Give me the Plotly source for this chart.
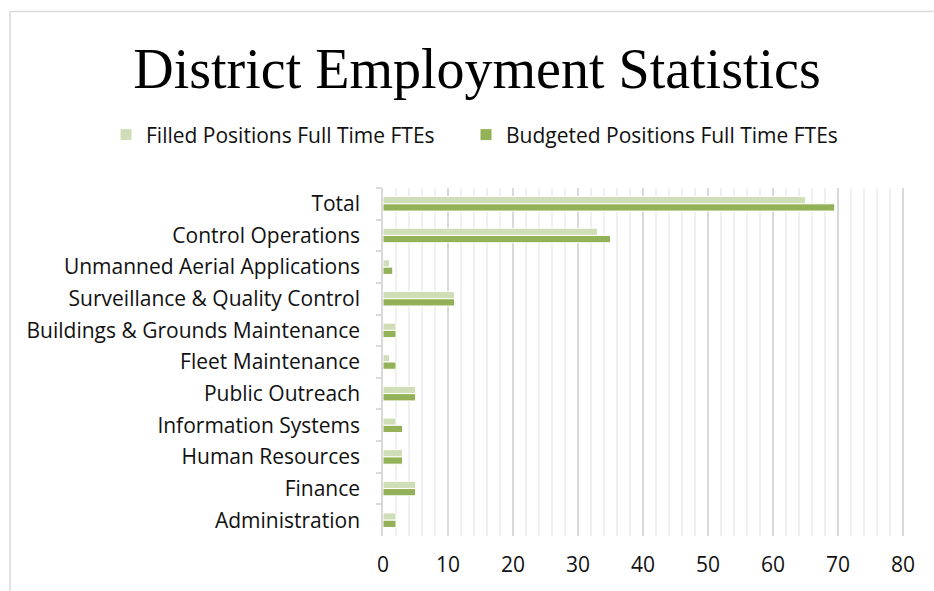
import plotly.graph_objects as go

# Departments, listed top to bottom as they appear on the chart
departments = [
    "Total",
    "Control Operations",
    "Unmanned Aerial Applications",
    "Surveillance & Quality Control",
    "Buildings & Grounds Maintenance",
    "Fleet Maintenance",
    "Public Outreach",
    "Information Systems",
    "Human Resources",
    "Finance",
    "Administration",
]

# Full-time equivalents per department
filled_ftes = [65, 33, 1, 11, 2, 1, 5, 2, 3, 5, 2]
budgeted_ftes = [69.5, 35, 1.5, 11, 2, 2, 5, 3, 3, 5, 2]

x_ticks = [0, 10, 20, 30, 40, 50, 60, 70, 80]

W, H = 934, 591
ML, MR, MT, MB = 383, 29, 188, 55

fig = go.Figure()
fig.add_trace(go.Bar(
    y=departments, x=filled_ftes, orientation="h",
    name="Filled Positions Full Time FTEs",
    marker=dict(color="#D0DEB8", line=dict(color="white", width=1)),
    legendwidth=315,
))
fig.add_trace(go.Bar(
    y=departments, x=budgeted_ftes, orientation="h",
    name="Budgeted Positions Full Time FTEs",
    marker=dict(color="#93B157", line=dict(color="white", width=1)),
    legendwidth=345,
))

label_font = dict(family="Open Sans, Noto Sans, sans-serif", size=21, color="#111111")


def px_to_paper_x(px):
    return (px - ML) / (W - ML - MR)


def px_to_paper_y(py):
    return (H - MB - py) / (H - MT - MB)


fig.update_layout(
    width=W, height=H,
    margin=dict(l=ML, r=MR, t=MT, b=MB, autoexpand=False),
    paper_bgcolor="white", plot_bgcolor="white",
    barmode="group", bargap=0.54, bargroupgap=0,
    title=dict(
        text="District Employment Statistics",
        font=dict(family="Liberation Serif, Times New Roman, serif", size=56, color="#000000"),
        x=477 / W, xanchor="center", xref="container",
        y=1 - 68 / H, yanchor="middle", yref="container",
    ),
    legend=dict(
        orientation="h", xref="paper", yref="paper",
        x=px_to_paper_x(106), xanchor="left", y=px_to_paper_y(135), yanchor="middle",
        font=label_font, traceorder="normal", itemwidth=30,
    ),
    showlegend=True,
    xaxis=dict(
        range=[0, 80.3], tickvals=x_ticks, ticktext=[str(v) for v in x_ticks],
        showgrid=True, gridcolor="#D9D9D9", gridwidth=1.5,
        minor=dict(dtick=2, showgrid=True, gridcolor="#F0F0F0", gridwidth=1.5),
        zeroline=False, showline=False, ticks="",
        tickfont=label_font, ticklabelstandoff=14, fixedrange=True,
    ),
    yaxis=dict(
        autorange="reversed", showgrid=False, zeroline=False,
        showline=True, linecolor="#D9D9D9", linewidth=1.5,
        ticks="outside", tickson="boundaries", ticklen=5, tickcolor="#D9D9D9", tickwidth=1.5,
        tickfont=label_font, ticklabelstandoff=17, fixedrange=True,
    ),
)

# Chart frame (top and left edges)
fig.add_shape(type="line", xref="paper", yref="paper",
              x0=px_to_paper_x(10), x1=px_to_paper_x(W + 5),
              y0=px_to_paper_y(11.5), y1=px_to_paper_y(11.5),
              line=dict(color="#D9D9D9", width=1.5))
fig.add_shape(type="line", xref="paper", yref="paper",
              x0=px_to_paper_x(10), x1=px_to_paper_x(10),
              y0=px_to_paper_y(11.5), y1=px_to_paper_y(H + 5),
              line=dict(color="#D9D9D9", width=1.5))

fig.write_html("out.html")
